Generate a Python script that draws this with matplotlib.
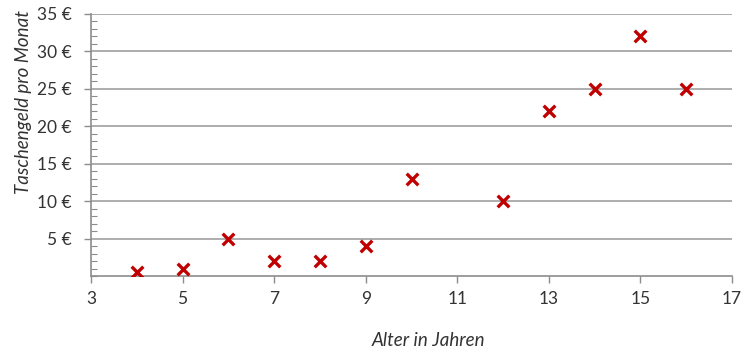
import matplotlib
matplotlib.use("Agg")
import matplotlib.pyplot as plt
from matplotlib.ticker import MultipleLocator, FuncFormatter

# Alter (Jahre) und monatliches Taschengeld (Euro)
alter = [4, 5, 6, 7, 8, 9, 10, 12, 13, 14, 15, 16]
taschengeld = [0.5, 1, 5, 2, 2, 4, 13, 10, 22, 25, 32, 25]

x_ticks = [3, 5, 7, 9, 11, 13, 15, 17]
y_ticks = [5, 10, 15, 20, 25, 30, 35]

plt.rcParams["font.family"] = ["Lato", "DejaVu Sans"]

fig = plt.figure(figsize=(7.42, 3.54), dpi=100)
ax = fig.add_axes([0.1226, 0.2203, 0.8640, 0.7402])

text_col = "#333333"
axis_col = "#8c8c8c"

ax.scatter(alter, taschengeld, marker="x", s=70, linewidths=2.4,
           color="#c00000", zorder=3)

ax.set_xlim(3, 17)
ax.set_ylim(0, 35)
ax.set_xticks(x_ticks)
ax.set_yticks(y_ticks)
ax.yaxis.set_minor_locator(MultipleLocator(1))
ax.yaxis.set_major_formatter(FuncFormatter(lambda v, p: f"{int(v)} €"))

ax.grid(axis="y", which="major", color="#a0a0a0", linewidth=1.2)
ax.set_axisbelow(True)

for side in ("top", "right"):
    ax.spines[side].set_visible(False)
for side in ("left", "bottom"):
    ax.spines[side].set_color(axis_col)
    ax.spines[side].set_linewidth(1.2)

ax.tick_params(axis="both", which="major", direction="out", length=5,
               width=1.0, color=axis_col, labelsize=12.5, labelcolor=text_col)
ax.tick_params(axis="y", which="minor", direction="in", length=4,
               width=0.8, color=axis_col)
ax.tick_params(axis="x", pad=6)
ax.tick_params(axis="y", pad=9)

ax.set_xlabel("Alter in Jahren", fontsize=13.5, style="italic", color=text_col)
ax.set_ylabel("Taschengeld pro Monat", fontsize=13.5, style="italic",
              color=text_col)
ax.xaxis.set_label_coords(0.527, -0.215)
ax.yaxis.set_label_coords(-0.092, 0.664)

fig.savefig("out.png", dpi=100)
